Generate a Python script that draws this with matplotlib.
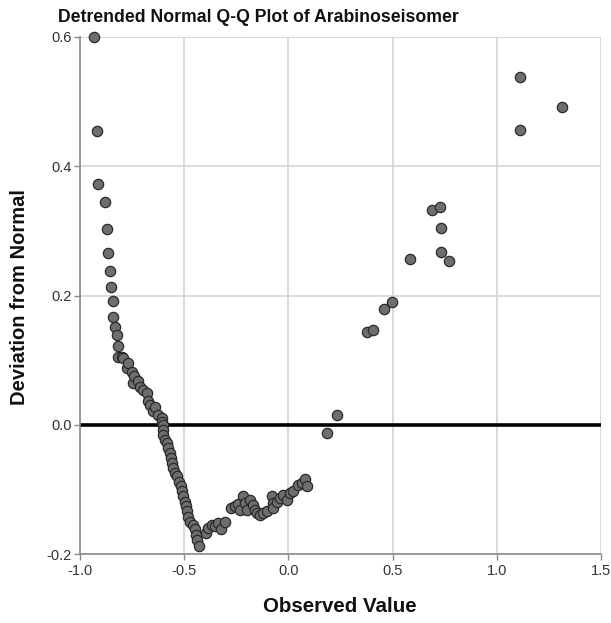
import matplotlib
matplotlib.use("Agg")
import matplotlib.pyplot as plt

plt.rcParams['font.family'] = ['Liberation Sans', 'DejaVu Sans']

title = "Detrended Normal Q-Q Plot of Arabinoseisomer"
x_label = "Observed Value"
y_label = "Deviation from Normal"

x_ticks = [-1.0, -0.5, 0.0, 0.5, 1.0, 1.5]
y_ticks = [-0.2, 0.0, 0.2, 0.4, 0.6]

observed = [
    -0.933, -0.920, -0.912, -0.880, -0.869, -0.866, -0.856, -0.850, -0.843, -0.842,
    -0.834, -0.821, -0.816, -0.816, -0.800, -0.795, -0.776, -0.768, -0.749, -0.744,
    -0.741, -0.723, -0.712, -0.696, -0.680, -0.672, -0.664, -0.648, -0.640, -0.624,
    -0.608, -0.608, -0.603, -0.600, -0.600, -0.592, -0.584, -0.576, -0.568, -0.563,
    -0.560, -0.552, -0.544, -0.536, -0.525, -0.515, -0.512, -0.504, -0.496, -0.491,
    -0.485, -0.480, -0.472, -0.456, -0.448, -0.445, -0.440, -0.429,
    -0.395, -0.384, -0.368, -0.352, -0.336, -0.325, -0.304,
    -0.275, -0.256, -0.240, -0.232, -0.216, -0.208, -0.200, -0.184, -0.168, -0.160,
    -0.152, -0.136, -0.120, -0.104, -0.080, -0.075, -0.072, -0.056, -0.040, -0.024,
    -0.008, 0.008, 0.024, 0.048, 0.064, 0.080, 0.088,
    0.187, 0.232, 0.379, 0.404, 0.459, 0.496, 0.583, 0.688, 0.727, 0.731, 0.732, 0.771,
    1.111, 1.111, 1.313,
]
deviation = [
    0.600, 0.454, 0.373, 0.344, 0.303, 0.266, 0.238, 0.213, 0.192, 0.167,
    0.152, 0.139, 0.122, 0.105, 0.105, 0.103, 0.088, 0.095, 0.0815, 0.0645,
    0.0748, 0.067, 0.059, 0.054, 0.049, 0.036, 0.031, 0.0206, 0.028, 0.0155,
    0.0104, 0.005, 0.000, -0.0077, -0.0155, -0.023, -0.028, -0.036, -0.044, -0.0515,
    -0.059, -0.067, -0.075, -0.080, -0.088, -0.095, -0.103, -0.111, -0.119, -0.126,
    -0.134, -0.142, -0.150, -0.155, -0.162, -0.170, -0.178, -0.188,
    -0.167, -0.160, -0.155, -0.157, -0.152, -0.161, -0.150,
    -0.129, -0.126, -0.123, -0.132, -0.111, -0.121, -0.132, -0.116, -0.124, -0.132,
    -0.136, -0.139, -0.137, -0.134, -0.111, -0.121, -0.129, -0.119, -0.113, -0.108,
    -0.116, -0.106, -0.103, -0.093, -0.090, -0.084, -0.095,
    -0.012, 0.0155, 0.144, 0.147, 0.179, 0.190, 0.256, 0.332, 0.337, 0.305, 0.267, 0.254,
    0.538, 0.456, 0.492,
]

fig = plt.figure(figsize=(6.11, 6.23), dpi=100)
ax = fig.add_axes([80/611, 69/623, 521/611, 517/623])

ax.set_xlim(-1.0, 1.5)
ax.set_ylim(-0.2, 0.6)
ax.set_xticks(x_ticks)
ax.set_yticks(y_ticks)
ax.set_xticklabels([f"{v:.1f}" for v in x_ticks])
ax.set_yticklabels([f"{v:.1f}" for v in y_ticks])

ax.grid(True, color='#d4d4d4', linewidth=1.2)
ax.set_axisbelow(True)
for s in ['top', 'right']:
    ax.spines[s].set_visible(False)
for s in ['left', 'bottom']:
    ax.spines[s].set_color('#8a8a8a')
    ax.spines[s].set_linewidth(1.2)

ax.tick_params(axis='both', colors='#8a8a8a', labelcolor='#333333', labelsize=10.5, length=4, width=1)
ax.tick_params(axis='x', pad=3)
ax.tick_params(axis='y', pad=2)

ax.axhline(0.0, color='black', linewidth=2.6, zorder=2)

ax.scatter(observed, deviation, s=55, facecolor='#6e6e6e', edgecolor='#2a2a2a',
           linewidth=0.9, zorder=3, clip_on=False)

fig.text(58/611, 1 - 17/623, title, fontsize=12.7, fontweight='bold', ha='left', va='center', color='#111111')
fig.text(340/611, 1 - 607/623, x_label, fontsize=14.8, fontweight='bold', ha='center', va='center', color='#111111')
fig.text(20/611, 1 - 297/623, y_label, fontsize=14.5, fontweight='bold', ha='center', va='center', rotation=90, color='#111111')

fig.savefig("out.png", dpi=100)
